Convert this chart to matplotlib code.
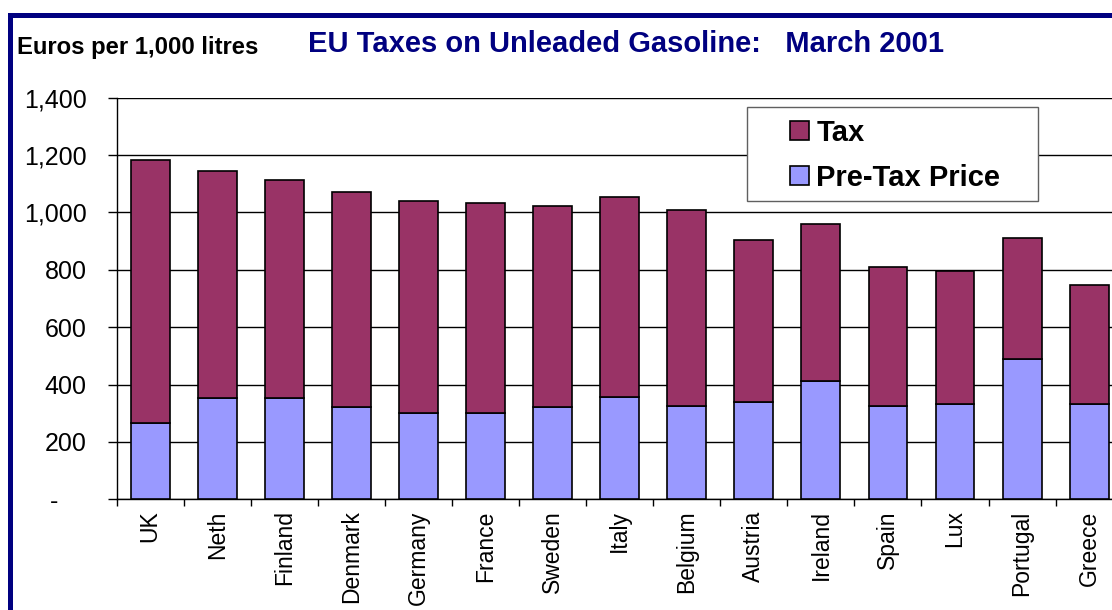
import numpy as np
import matplotlib.pyplot as plt
from matplotlib.patches import Rectangle

plt.rcParams["font.family"] = ["Liberation Sans", "DejaVu Sans"]

countries = ["UK", "Neth", "Finland", "Denmark", "Germany", "France", "Sweden",
             "Italy", "Belgium", "Austria", "Ireland", "Spain", "Lux", "Portugal", "Greece"]
pre_tax = [265, 352, 352, 322, 302, 301, 321, 358, 326, 340, 413, 326, 333, 489, 333]
tax = [918, 793, 762, 750, 738, 733, 702, 697, 682, 564, 548, 484, 464, 421, 415]
y_ticks = [0, 200, 400, 600, 800, 1000, 1200, 1400]
y_tick_labels = ["-    ", "200", "400", "600", "800", "1,000", "1,200", "1,400"]

TAX_COLOR = "#993366"
PRE_COLOR = "#9999FF"
NAVY = "#000080"

W, H = 1112, 610
fig = plt.figure(figsize=(W / 100, H / 100), dpi=100)

# plot area runs slightly past the right edge of the figure
ax = fig.add_axes([116.7 / W, 1 - 499.3 / H, 1006 / W, 401.6 / H])

x = np.arange(len(countries))
ax.bar(x, pre_tax, width=0.58, color=PRE_COLOR, edgecolor="black",
       linewidth=1.2, label="Pre-Tax Price", zorder=3)
ax.bar(x, tax, width=0.58, bottom=pre_tax, color=TAX_COLOR, edgecolor="black",
       linewidth=1.2, label="Tax", zorder=3)

ax.set_xlim(-0.5, len(countries) - 0.5)
ax.set_ylim(0, 1400)

ax.set_yticks(y_ticks)
ax.set_yticklabels(y_tick_labels)
ax.tick_params(axis="y", length=6.5, width=1, pad=15, labelsize=18)
ax.yaxis.grid(True, color="black", linewidth=1)
ax.set_axisbelow(True)

ax.set_xticks(x)
ax.set_xticklabels(countries, rotation=90, va="top", ha="center")
ax.set_xticks(np.arange(-0.5, len(countries), 1), minor=True)
ax.tick_params(axis="x", which="major", length=0, pad=8, labelsize=16.5)
ax.tick_params(axis="x", which="minor", length=5, width=1)

for side in ["top", "right"]:
    ax.spines[side].set_visible(False)
for side in ["left", "bottom"]:
    ax.spines[side].set_linewidth(1)
    ax.spines[side].set_color("black")

# legend box
fig.add_artist(Rectangle((747.3 / W, 1 - 200.7 / H), 291 / W, 94 / H,
                         transform=fig.transFigure, facecolor="white",
                         edgecolor="#606060", linewidth=1, zorder=2))
handles, labels = ax.get_legend_handles_labels()
fig.legend(handles[::-1], labels[::-1], loc="upper left",
           bbox_to_anchor=(790 / W, 1 - 119 / H), frameon=False,
           prop={"weight": "bold", "size": 21}, handlelength=0.65,
           handleheight=0.65, handletextpad=0.25, labelspacing=0.58,
           borderpad=0, borderaxespad=0)

fig.text(17 / W, 1 - 54 / H, "Euros per 1,000 litres", fontsize=17.2,
         fontweight="bold", color="black", va="baseline", ha="left")
fig.text(308 / W, 1 - 52 / H, "EU Taxes on Unleaded Gasoline:   March 2001",
         fontsize=21, fontweight="bold", color=NAVY, va="baseline", ha="left")

# outer frame
fig.add_artist(Rectangle((9.8 / W, -0.2), 1.5, 1.2 - 14.5 / H,
                         transform=fig.transFigure, facecolor="none",
                         edgecolor=NAVY, linewidth=3.6, zorder=10))

fig.savefig("out.png", dpi=100)
